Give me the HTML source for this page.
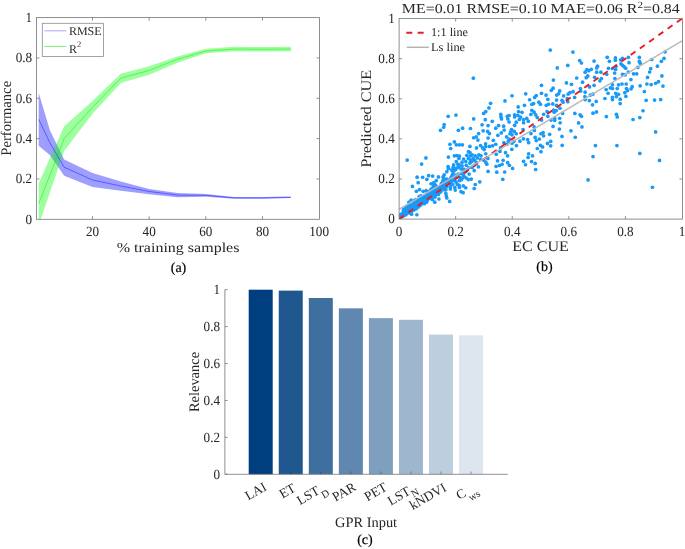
<!DOCTYPE html>
<html lang="en">
<head>
<meta charset="utf-8">
<title>GPR performance figure</title>
<style>
html,body{margin:0;padding:0;background:#fff;}
body{width:685px;height:549px;overflow:hidden;}
svg{display:block;font-family:"Liberation Serif", "DejaVu Serif", serif;text-rendering:geometricPrecision;will-change:transform;transform:translateZ(0);}
</style>
</head>
<body>
<svg width="685" height="549" viewBox="0 0 685 549">
<rect width="685" height="549" fill="#fff"/>
<clipPath id="ca"><rect x="36.5" y="17.6" width="283" height="201.7"/></clipPath>
<g clip-path="url(#ca)">
<polygon points="38.66,92.63 50,130.55 64.16,159.4 92.5,173.11 120.83,181.38 149.16,189.05 177.5,192.88 205.83,193.89 234.16,197.11 262.49,197.11 290.83,196.51 290.83,198.12 262.49,198.73 234.16,198.73 205.83,196.71 177.5,197.31 149.16,194.29 120.83,190.66 92.5,187.03 64.16,175.73 50,155.16 38.66,145.68" fill="rgba(0,0,255,0.38)"/>
<polygon points="38.66,183.2 50,157.98 64.16,126.32 92.5,101.1 120.83,73.87 149.16,66.21 177.5,56.53 205.83,48.66 234.16,46.85 262.49,47.05 290.83,46.85 290.83,51.28 262.49,51.49 234.16,51.28 205.83,53.3 177.5,62.78 149.16,74.68 120.83,82.95 92.5,113.81 64.16,150.92 50,192.27 38.66,225.35" fill="rgba(0,255,0,0.38)"/>
<polyline points="38.66,119.26 50,143.06 64.16,167.26 92.5,179.97 120.83,186.02 149.16,191.47 177.5,195.1 205.83,195.3 234.16,197.92 262.49,197.92 290.83,197.31" fill="none" stroke="#0000ff" stroke-width="0.8" stroke-opacity="0.55"/>
<polyline points="38.66,203.77 50,174.72 64.16,138.62 92.5,107.36 120.83,78.11 149.16,70.45 177.5,59.35 205.83,51.08 234.16,49.07 262.49,49.27 290.83,49.07" fill="none" stroke="#00e000" stroke-width="0.8" stroke-opacity="0.55"/>
</g>
<rect x="36.5" y="17.6" width="283" height="201.7" fill="none" stroke="#7c7c7c" stroke-width="0.85"/>
<line x1="92.5" y1="219.3" x2="92.5" y2="216.3" stroke="#7c7c7c" stroke-width="0.85" />
<line x1="92.5" y1="17.6" x2="92.5" y2="20.6" stroke="#7c7c7c" stroke-width="0.85" />
<line x1="149.16" y1="219.3" x2="149.16" y2="216.3" stroke="#7c7c7c" stroke-width="0.85" />
<line x1="149.16" y1="17.6" x2="149.16" y2="20.6" stroke="#7c7c7c" stroke-width="0.85" />
<line x1="205.83" y1="219.3" x2="205.83" y2="216.3" stroke="#7c7c7c" stroke-width="0.85" />
<line x1="205.83" y1="17.6" x2="205.83" y2="20.6" stroke="#7c7c7c" stroke-width="0.85" />
<line x1="262.49" y1="219.3" x2="262.49" y2="216.3" stroke="#7c7c7c" stroke-width="0.85" />
<line x1="262.49" y1="17.6" x2="262.49" y2="20.6" stroke="#7c7c7c" stroke-width="0.85" />
<line x1="36.5" y1="178.96" x2="39.5" y2="178.96" stroke="#7c7c7c" stroke-width="0.85" />
<line x1="319.5" y1="178.96" x2="316.5" y2="178.96" stroke="#7c7c7c" stroke-width="0.85" />
<line x1="36.5" y1="138.62" x2="39.5" y2="138.62" stroke="#7c7c7c" stroke-width="0.85" />
<line x1="319.5" y1="138.62" x2="316.5" y2="138.62" stroke="#7c7c7c" stroke-width="0.85" />
<line x1="36.5" y1="98.28" x2="39.5" y2="98.28" stroke="#7c7c7c" stroke-width="0.85" />
<line x1="319.5" y1="98.28" x2="316.5" y2="98.28" stroke="#7c7c7c" stroke-width="0.85" />
<line x1="36.5" y1="57.94" x2="39.5" y2="57.94" stroke="#7c7c7c" stroke-width="0.85" />
<line x1="319.5" y1="57.94" x2="316.5" y2="57.94" stroke="#7c7c7c" stroke-width="0.85" />
<text x="92.5" y="236" font-size="14" text-anchor="middle" fill="#262626" textLength="13.16" lengthAdjust="spacingAndGlyphs">20</text>
<text x="149.16" y="236" font-size="14" text-anchor="middle" fill="#262626" textLength="13.16" lengthAdjust="spacingAndGlyphs">40</text>
<text x="205.83" y="236" font-size="14" text-anchor="middle" fill="#262626" textLength="13.16" lengthAdjust="spacingAndGlyphs">60</text>
<text x="262.49" y="236" font-size="14" text-anchor="middle" fill="#262626" textLength="13.16" lengthAdjust="spacingAndGlyphs">80</text>
<text x="319.16" y="236" font-size="14" text-anchor="middle" fill="#262626" textLength="19.74" lengthAdjust="spacingAndGlyphs">100</text>
<text x="32.2" y="223.6" font-size="14" text-anchor="end" fill="#262626" textLength="6.58" lengthAdjust="spacingAndGlyphs">0</text>
<text x="32.2" y="183.26" font-size="14" text-anchor="end" fill="#262626" textLength="16.45" lengthAdjust="spacingAndGlyphs">0.2</text>
<text x="32.2" y="142.92" font-size="14" text-anchor="end" fill="#262626" textLength="16.45" lengthAdjust="spacingAndGlyphs">0.4</text>
<text x="32.2" y="102.58" font-size="14" text-anchor="end" fill="#262626" textLength="16.45" lengthAdjust="spacingAndGlyphs">0.6</text>
<text x="32.2" y="62.24" font-size="14" text-anchor="end" fill="#262626" textLength="16.45" lengthAdjust="spacingAndGlyphs">0.8</text>
<text x="32.2" y="21.9" font-size="14" text-anchor="end" fill="#262626" textLength="6.58" lengthAdjust="spacingAndGlyphs">1</text>
<text x="0" y="0" font-size="14.67" text-anchor="middle" fill="#262626" transform="translate(10.6 118.3) rotate(-90)">Performance</text>
<text x="178.1" y="251.8" font-size="13.7" text-anchor="middle" fill="#262626" textLength="122.7" lengthAdjust="spacingAndGlyphs">% training samples</text>
<text x="178.5" y="271.5" font-size="14" text-anchor="middle" fill="#000" stroke="#000" stroke-width="0.2">(a)</text>
<rect x="42.3" y="23.3" width="61.2" height="33.2" fill="#fff" stroke="#8c8c8c" stroke-width="0.8"/>
<line x1="44.4" y1="30.8" x2="66.4" y2="30.8" stroke="#0000ff" stroke-width="0.9" stroke-opacity="0.4"/>
<line x1="44.4" y1="46.4" x2="66.4" y2="46.4" stroke="#00e000" stroke-width="0.9" stroke-opacity="0.6"/>
<text x="68.9" y="35.1" font-size="12" text-anchor="start" fill="#262626" >RMSE</text>
<text x="68.9" y="52.6" font-size="12" fill="#262626">R<tspan font-size="8.4" dy="-5.4">2</tspan></text>
<clipPath id="cb"><rect x="399.1" y="18.6" width="282.9" height="200.5"/></clipPath>
<g clip-path="url(#cb)">
<g fill="#189af8">
<circle cx="550.25" cy="50.06" r="1.85"/>
<circle cx="572.94" cy="52.06" r="1.85"/>
<circle cx="579.68" cy="60.56" r="1.85"/>
<circle cx="581.46" cy="62.99" r="1.85"/>
<circle cx="567.79" cy="65.4" r="1.85"/>
<circle cx="557.3" cy="67.92" r="1.85"/>
<circle cx="594.07" cy="61.09" r="1.85"/>
<circle cx="607.23" cy="57.32" r="1.85"/>
<circle cx="609.44" cy="61.31" r="1.85"/>
<circle cx="597.55" cy="66.14" r="1.85"/>
<circle cx="596.71" cy="67.92" r="1.85"/>
<circle cx="586.83" cy="69.51" r="1.85"/>
<circle cx="591.25" cy="69.29" r="1.85"/>
<circle cx="608.47" cy="68.24" r="1.85"/>
<circle cx="665.08" cy="51.84" r="1.85"/>
<circle cx="664.04" cy="58.46" r="1.85"/>
<circle cx="661.4" cy="61.31" r="1.85"/>
<circle cx="657.42" cy="66.14" r="1.85"/>
<circle cx="651.73" cy="59.52" r="1.85"/>
<circle cx="650.68" cy="68.66" r="1.85"/>
<circle cx="639.34" cy="57.42" r="1.85"/>
<circle cx="639.34" cy="61.31" r="1.85"/>
<circle cx="640.16" cy="63.19" r="1.85"/>
<circle cx="637.75" cy="67.4" r="1.85"/>
<circle cx="628.31" cy="57.42" r="1.85"/>
<circle cx="629.04" cy="62.67" r="1.85"/>
<circle cx="622.51" cy="58.46" r="1.85"/>
<circle cx="620.61" cy="59.84" r="1.85"/>
<circle cx="615.38" cy="57.94" r="1.85"/>
<circle cx="615.38" cy="60.26" r="1.85"/>
<circle cx="620.92" cy="63.73" r="1.85"/>
<circle cx="622.51" cy="65.3" r="1.85"/>
<circle cx="624.09" cy="66.56" r="1.85"/>
<circle cx="625.67" cy="68.24" r="1.85"/>
<circle cx="616" cy="66.36" r="1.85"/>
<circle cx="615.69" cy="69.51" r="1.85"/>
<circle cx="448.18" cy="116.34" r="1.85"/>
<circle cx="455.96" cy="115.08" r="1.85"/>
<circle cx="473.36" cy="78.19" r="1.85"/>
<circle cx="490.59" cy="103.31" r="1.85"/>
<circle cx="488.92" cy="107.94" r="1.85"/>
<circle cx="485.78" cy="111.61" r="1.85"/>
<circle cx="483.66" cy="113.42" r="1.85"/>
<circle cx="473.67" cy="118.97" r="1.85"/>
<circle cx="485.24" cy="119.71" r="1.85"/>
<circle cx="504.99" cy="100.91" r="1.85"/>
<circle cx="512.03" cy="95.75" r="1.85"/>
<circle cx="525.7" cy="93.85" r="1.85"/>
<circle cx="541.48" cy="85.35" r="1.85"/>
<circle cx="541.48" cy="93.23" r="1.85"/>
<circle cx="536.22" cy="95.53" r="1.85"/>
<circle cx="534.64" cy="97.44" r="1.85"/>
<circle cx="529.6" cy="99.74" r="1.85"/>
<circle cx="533.59" cy="103.53" r="1.85"/>
<circle cx="531.81" cy="104.25" r="1.85"/>
<circle cx="538.85" cy="102.17" r="1.85"/>
<circle cx="540.44" cy="104.25" r="1.85"/>
<circle cx="524.45" cy="105.32" r="1.85"/>
<circle cx="518.14" cy="106.9" r="1.85"/>
<circle cx="518.57" cy="111.61" r="1.85"/>
<circle cx="522.02" cy="112.35" r="1.85"/>
<circle cx="531.81" cy="110.25" r="1.85"/>
<circle cx="534.13" cy="112.15" r="1.85"/>
<circle cx="530.96" cy="114.46" r="1.85"/>
<circle cx="535.68" cy="114.78" r="1.85"/>
<circle cx="500.8" cy="114.46" r="1.85"/>
<circle cx="501" cy="116.89" r="1.85"/>
<circle cx="507.31" cy="116.34" r="1.85"/>
<circle cx="509.09" cy="115.5" r="1.85"/>
<circle cx="514.66" cy="114.78" r="1.85"/>
<circle cx="514.66" cy="116.89" r="1.85"/>
<circle cx="517.83" cy="115.3" r="1.85"/>
<circle cx="520.46" cy="117.19" r="1.85"/>
<circle cx="526.77" cy="118.45" r="1.85"/>
<circle cx="537.27" cy="117.41" r="1.85"/>
<circle cx="501.54" cy="118.97" r="1.85"/>
<circle cx="507.85" cy="118.97" r="1.85"/>
<circle cx="519.39" cy="119.51" r="1.85"/>
<circle cx="523.6" cy="119.71" r="1.85"/>
<circle cx="553.39" cy="80.09" r="1.85"/>
<circle cx="566.44" cy="82.92" r="1.85"/>
<circle cx="571.47" cy="84.28" r="1.85"/>
<circle cx="576.73" cy="77.99" r="1.85"/>
<circle cx="582.53" cy="82.2" r="1.85"/>
<circle cx="553.08" cy="88.17" r="1.85"/>
<circle cx="551.3" cy="90.28" r="1.85"/>
<circle cx="559.7" cy="90.92" r="1.85"/>
<circle cx="546.04" cy="95.11" r="1.85"/>
<circle cx="558.66" cy="93.75" r="1.85"/>
<circle cx="556.76" cy="95.11" r="1.85"/>
<circle cx="563.61" cy="95.85" r="1.85"/>
<circle cx="547.82" cy="99.32" r="1.85"/>
<circle cx="556.56" cy="100.06" r="1.85"/>
<circle cx="562.02" cy="100.36" r="1.85"/>
<circle cx="563.07" cy="102.17" r="1.85"/>
<circle cx="567.28" cy="98.48" r="1.85"/>
<circle cx="567.79" cy="101.63" r="1.85"/>
<circle cx="568.1" cy="94.07" r="1.85"/>
<circle cx="569.92" cy="92.7" r="1.85"/>
<circle cx="573.06" cy="91.64" r="1.85"/>
<circle cx="574.64" cy="97.44" r="1.85"/>
<circle cx="580.41" cy="88.49" r="1.85"/>
<circle cx="580.72" cy="90.92" r="1.85"/>
<circle cx="585.14" cy="92.18" r="1.85"/>
<circle cx="584.94" cy="96.59" r="1.85"/>
<circle cx="585.14" cy="99.54" r="1.85"/>
<circle cx="589.35" cy="100.58" r="1.85"/>
<circle cx="589.55" cy="86.91" r="1.85"/>
<circle cx="590.4" cy="95.11" r="1.85"/>
<circle cx="593.03" cy="94.07" r="1.85"/>
<circle cx="594.07" cy="85.35" r="1.85"/>
<circle cx="596.2" cy="101.43" r="1.85"/>
<circle cx="592.49" cy="104.79" r="1.85"/>
<circle cx="585.14" cy="72.21" r="1.85"/>
<circle cx="588.81" cy="70.63" r="1.85"/>
<circle cx="587.77" cy="75.88" r="1.85"/>
<circle cx="586.21" cy="77.67" r="1.85"/>
<circle cx="594.61" cy="77.25" r="1.85"/>
<circle cx="596.71" cy="72.21" r="1.85"/>
<circle cx="600.92" cy="72.21" r="1.85"/>
<circle cx="601.43" cy="78.51" r="1.85"/>
<circle cx="599.87" cy="80.82" r="1.85"/>
<circle cx="606.69" cy="74.3" r="1.85"/>
<circle cx="612.46" cy="68.52" r="1.85"/>
<circle cx="606.15" cy="89.56" r="1.85"/>
<circle cx="608.05" cy="93.23" r="1.85"/>
<circle cx="604.91" cy="98.48" r="1.85"/>
<circle cx="610.37" cy="87.97" r="1.85"/>
<circle cx="612.46" cy="88.49" r="1.85"/>
<circle cx="612.46" cy="84.83" r="1.85"/>
<circle cx="612.46" cy="97.44" r="1.85"/>
<circle cx="612.46" cy="99.54" r="1.85"/>
<circle cx="548.56" cy="104.25" r="1.85"/>
<circle cx="546.26" cy="105.32" r="1.85"/>
<circle cx="552.77" cy="103.95" r="1.85"/>
<circle cx="556.56" cy="105.32" r="1.85"/>
<circle cx="559.93" cy="108.14" r="1.85"/>
<circle cx="553.62" cy="110.05" r="1.85"/>
<circle cx="556.25" cy="110.57" r="1.85"/>
<circle cx="547.08" cy="111.61" r="1.85"/>
<circle cx="543.63" cy="114.24" r="1.85"/>
<circle cx="554.13" cy="112.15" r="1.85"/>
<circle cx="562.56" cy="113.42" r="1.85"/>
<circle cx="547.82" cy="116.34" r="1.85"/>
<circle cx="554.67" cy="118.25" r="1.85"/>
<circle cx="559.7" cy="118.25" r="1.85"/>
<circle cx="574.84" cy="113.42" r="1.85"/>
<circle cx="580.1" cy="114.78" r="1.85"/>
<circle cx="581.46" cy="116.34" r="1.85"/>
<circle cx="593.03" cy="113.2" r="1.85"/>
<circle cx="596.51" cy="111.93" r="1.85"/>
<circle cx="606.38" cy="116.56" r="1.85"/>
<circle cx="614.64" cy="73.04" r="1.85"/>
<circle cx="628.31" cy="71.99" r="1.85"/>
<circle cx="622.51" cy="74.3" r="1.85"/>
<circle cx="625.14" cy="74.84" r="1.85"/>
<circle cx="633.54" cy="73.78" r="1.85"/>
<circle cx="636.71" cy="73.78" r="1.85"/>
<circle cx="649.64" cy="71.99" r="1.85"/>
<circle cx="647.51" cy="77.47" r="1.85"/>
<circle cx="661.91" cy="75.88" r="1.85"/>
<circle cx="614.95" cy="78.51" r="1.85"/>
<circle cx="630.91" cy="79.57" r="1.85"/>
<circle cx="618.52" cy="84.83" r="1.85"/>
<circle cx="622" cy="83.98" r="1.85"/>
<circle cx="626.18" cy="83.98" r="1.85"/>
<circle cx="632.18" cy="86.71" r="1.85"/>
<circle cx="631.13" cy="88.82" r="1.85"/>
<circle cx="640.16" cy="85.87" r="1.85"/>
<circle cx="646.89" cy="83.98" r="1.85"/>
<circle cx="651.19" cy="84.6" r="1.85"/>
<circle cx="655.63" cy="83.24" r="1.85"/>
<circle cx="658.46" cy="81.66" r="1.85"/>
<circle cx="662.99" cy="86.09" r="1.85"/>
<circle cx="617.24" cy="88.49" r="1.85"/>
<circle cx="626.5" cy="88.49" r="1.85"/>
<circle cx="627.57" cy="90.6" r="1.85"/>
<circle cx="624.83" cy="92.7" r="1.85"/>
<circle cx="615.69" cy="93.23" r="1.85"/>
<circle cx="618.52" cy="94.27" r="1.85"/>
<circle cx="616.42" cy="96.59" r="1.85"/>
<circle cx="625.87" cy="96.37" r="1.85"/>
<circle cx="620.19" cy="99.22" r="1.85"/>
<circle cx="620.19" cy="103.53" r="1.85"/>
<circle cx="644.37" cy="91.54" r="1.85"/>
<circle cx="646.16" cy="100.36" r="1.85"/>
<circle cx="654.56" cy="100.06" r="1.85"/>
<circle cx="660.67" cy="99.54" r="1.85"/>
<circle cx="643.02" cy="110.77" r="1.85"/>
<circle cx="616.42" cy="114.24" r="1.85"/>
<circle cx="617.24" cy="116.89" r="1.85"/>
<circle cx="639.85" cy="117.61" r="1.85"/>
<circle cx="633.03" cy="119.51" r="1.85"/>
<circle cx="444.19" cy="124.52" r="1.85"/>
<circle cx="443.69" cy="127.25" r="1.85"/>
<circle cx="440.52" cy="130.3" r="1.85"/>
<circle cx="458.4" cy="130.3" r="1.85"/>
<circle cx="462.58" cy="128.19" r="1.85"/>
<circle cx="470.48" cy="128.51" r="1.85"/>
<circle cx="407.19" cy="160.05" r="1.85"/>
<circle cx="421.59" cy="164.04" r="1.85"/>
<circle cx="425.92" cy="157.95" r="1.85"/>
<circle cx="449.97" cy="144.27" r="1.85"/>
<circle cx="454.38" cy="141.97" r="1.85"/>
<circle cx="456.27" cy="144.79" r="1.85"/>
<circle cx="459.44" cy="144.79" r="1.85"/>
<circle cx="462.38" cy="144.79" r="1.85"/>
<circle cx="450.7" cy="148.48" r="1.85"/>
<circle cx="469.94" cy="146.38" r="1.85"/>
<circle cx="448.41" cy="157.11" r="1.85"/>
<circle cx="454.38" cy="155.84" r="1.85"/>
<circle cx="456.81" cy="155.62" r="1.85"/>
<circle cx="459.44" cy="156.04" r="1.85"/>
<circle cx="458.91" cy="158.47" r="1.85"/>
<circle cx="468.38" cy="151.63" r="1.85"/>
<circle cx="466.8" cy="155.32" r="1.85"/>
<circle cx="463.63" cy="158.99" r="1.85"/>
<circle cx="468.38" cy="158.47" r="1.85"/>
<circle cx="470.48" cy="155.84" r="1.85"/>
<circle cx="456.27" cy="161.62" r="1.85"/>
<circle cx="462.07" cy="162.14" r="1.85"/>
<circle cx="465.75" cy="161.62" r="1.85"/>
<circle cx="453.64" cy="164.76" r="1.85"/>
<circle cx="457.86" cy="164.24" r="1.85"/>
<circle cx="448.1" cy="166.57" r="1.85"/>
<circle cx="453.13" cy="167.41" r="1.85"/>
<circle cx="457.86" cy="167.41" r="1.85"/>
<circle cx="462.07" cy="165.83" r="1.85"/>
<circle cx="466.26" cy="165.31" r="1.85"/>
<circle cx="461.03" cy="168.97" r="1.85"/>
<circle cx="455.76" cy="169.5" r="1.85"/>
<circle cx="470.48" cy="160.05" r="1.85"/>
<circle cx="492.29" cy="121.36" r="1.85"/>
<circle cx="509.09" cy="122" r="1.85"/>
<circle cx="516.25" cy="122.2" r="1.85"/>
<circle cx="514.66" cy="125.37" r="1.85"/>
<circle cx="523.6" cy="122.74" r="1.85"/>
<circle cx="528.33" cy="121.16" r="1.85"/>
<circle cx="482.07" cy="124.82" r="1.85"/>
<circle cx="488.07" cy="125.57" r="1.85"/>
<circle cx="483.15" cy="130.82" r="1.85"/>
<circle cx="495.74" cy="128.19" r="1.85"/>
<circle cx="498.6" cy="125.57" r="1.85"/>
<circle cx="503.63" cy="126.21" r="1.85"/>
<circle cx="504.17" cy="130.08" r="1.85"/>
<circle cx="501.31" cy="132.93" r="1.85"/>
<circle cx="487.65" cy="131.46" r="1.85"/>
<circle cx="489.46" cy="133.55" r="1.85"/>
<circle cx="478.62" cy="133.55" r="1.85"/>
<circle cx="497.86" cy="135.35" r="1.85"/>
<circle cx="473.67" cy="137.76" r="1.85"/>
<circle cx="476.3" cy="136.92" r="1.85"/>
<circle cx="477.89" cy="140.08" r="1.85"/>
<circle cx="488.07" cy="137.98" r="1.85"/>
<circle cx="493.33" cy="140.28" r="1.85"/>
<circle cx="511.52" cy="129.56" r="1.85"/>
<circle cx="510.79" cy="131.66" r="1.85"/>
<circle cx="514.16" cy="131.46" r="1.85"/>
<circle cx="509.94" cy="133.77" r="1.85"/>
<circle cx="512.03" cy="134.81" r="1.85"/>
<circle cx="516.25" cy="133.77" r="1.85"/>
<circle cx="506.57" cy="136.92" r="1.85"/>
<circle cx="509.09" cy="139.02" r="1.85"/>
<circle cx="508.36" cy="141.13" r="1.85"/>
<circle cx="512.03" cy="143.23" r="1.85"/>
<circle cx="513.93" cy="141.33" r="1.85"/>
<circle cx="503.86" cy="142.71" r="1.85"/>
<circle cx="506.8" cy="144.27" r="1.85"/>
<circle cx="516.45" cy="145.54" r="1.85"/>
<circle cx="511.84" cy="149.33" r="1.85"/>
<circle cx="523.07" cy="129.56" r="1.85"/>
<circle cx="530.96" cy="133.55" r="1.85"/>
<circle cx="534.33" cy="130.4" r="1.85"/>
<circle cx="534.13" cy="126.93" r="1.85"/>
<circle cx="523.41" cy="138.82" r="1.85"/>
<circle cx="519.93" cy="141.13" r="1.85"/>
<circle cx="527.59" cy="139.54" r="1.85"/>
<circle cx="528.64" cy="142.71" r="1.85"/>
<circle cx="535.17" cy="137.44" r="1.85"/>
<circle cx="536.22" cy="140.6" r="1.85"/>
<circle cx="539.36" cy="139.02" r="1.85"/>
<circle cx="540.95" cy="133.77" r="1.85"/>
<circle cx="537.27" cy="148.48" r="1.85"/>
<circle cx="540.44" cy="145.34" r="1.85"/>
<circle cx="540.95" cy="151.63" r="1.85"/>
<circle cx="476.53" cy="147.96" r="1.85"/>
<circle cx="480.52" cy="145.54" r="1.85"/>
<circle cx="482.61" cy="147.96" r="1.85"/>
<circle cx="485.55" cy="143.75" r="1.85"/>
<circle cx="485.78" cy="146.38" r="1.85"/>
<circle cx="484.2" cy="149.53" r="1.85"/>
<circle cx="489.46" cy="146.38" r="1.85"/>
<circle cx="492.6" cy="145.86" r="1.85"/>
<circle cx="495.74" cy="144.27" r="1.85"/>
<circle cx="500.49" cy="147.96" r="1.85"/>
<circle cx="499.95" cy="151.43" r="1.85"/>
<circle cx="496.28" cy="154.26" r="1.85"/>
<circle cx="505.53" cy="152.69" r="1.85"/>
<circle cx="507.62" cy="155.84" r="1.85"/>
<circle cx="485.78" cy="153.74" r="1.85"/>
<circle cx="469.99" cy="152.69" r="1.85"/>
<circle cx="472.09" cy="154.78" r="1.85"/>
<circle cx="475.26" cy="155.84" r="1.85"/>
<circle cx="478.93" cy="154.78" r="1.85"/>
<circle cx="481.03" cy="155.84" r="1.85"/>
<circle cx="477.35" cy="157.95" r="1.85"/>
<circle cx="473.16" cy="158.47" r="1.85"/>
<circle cx="474.72" cy="160.57" r="1.85"/>
<circle cx="471.58" cy="161.62" r="1.85"/>
<circle cx="476.3" cy="162.68" r="1.85"/>
<circle cx="480.52" cy="159.51" r="1.85"/>
<circle cx="483.66" cy="160.05" r="1.85"/>
<circle cx="487.87" cy="158.47" r="1.85"/>
<circle cx="485.78" cy="162.14" r="1.85"/>
<circle cx="486.83" cy="164.24" r="1.85"/>
<circle cx="474.21" cy="165.31" r="1.85"/>
<circle cx="478.4" cy="166.87" r="1.85"/>
<circle cx="472.09" cy="167.41" r="1.85"/>
<circle cx="497.55" cy="160.87" r="1.85"/>
<circle cx="503.12" cy="160.25" r="1.85"/>
<circle cx="502.05" cy="164.24" r="1.85"/>
<circle cx="499.44" cy="165.51" r="1.85"/>
<circle cx="496.08" cy="166.35" r="1.85"/>
<circle cx="507.62" cy="162.68" r="1.85"/>
<circle cx="509.4" cy="165.31" r="1.85"/>
<circle cx="512.57" cy="168.45" r="1.85"/>
<circle cx="528.64" cy="153.74" r="1.85"/>
<circle cx="532.54" cy="155.84" r="1.85"/>
<circle cx="528.13" cy="157.41" r="1.85"/>
<circle cx="523.6" cy="161.3" r="1.85"/>
<circle cx="531.5" cy="161.62" r="1.85"/>
<circle cx="535.17" cy="163.4" r="1.85"/>
<circle cx="525.5" cy="164.76" r="1.85"/>
<circle cx="535.68" cy="169.5" r="1.85"/>
<circle cx="541.51" cy="120.09" r="1.85"/>
<circle cx="550.99" cy="120.09" r="1.85"/>
<circle cx="554.67" cy="120.31" r="1.85"/>
<circle cx="560.13" cy="122.74" r="1.85"/>
<circle cx="553.08" cy="126.41" r="1.85"/>
<circle cx="559.39" cy="129.04" r="1.85"/>
<circle cx="543.1" cy="132.5" r="1.85"/>
<circle cx="543.63" cy="135.87" r="1.85"/>
<circle cx="549.63" cy="134.29" r="1.85"/>
<circle cx="562.02" cy="136.39" r="1.85"/>
<circle cx="570.96" cy="130.82" r="1.85"/>
<circle cx="578.63" cy="122.94" r="1.85"/>
<circle cx="581.99" cy="126.93" r="1.85"/>
<circle cx="575.26" cy="137.24" r="1.85"/>
<circle cx="550.68" cy="141.33" r="1.85"/>
<circle cx="547.51" cy="143.43" r="1.85"/>
<circle cx="550.68" cy="145.86" r="1.85"/>
<circle cx="542.59" cy="146.9" r="1.85"/>
<circle cx="562.22" cy="145.34" r="1.85"/>
<circle cx="595.43" cy="145.54" r="1.85"/>
<circle cx="593.03" cy="156.58" r="1.85"/>
<circle cx="655.63" cy="131.88" r="1.85"/>
<circle cx="616.93" cy="145.54" r="1.85"/>
<circle cx="639.85" cy="153.42" r="1.85"/>
<circle cx="659.51" cy="160.47" r="1.85"/>
<circle cx="417.09" cy="177.14" r="1.85"/>
<circle cx="422.64" cy="177.26" r="1.85"/>
<circle cx="428.63" cy="175.57" r="1.85"/>
<circle cx="432.62" cy="176.09" r="1.85"/>
<circle cx="438.42" cy="176.93" r="1.85"/>
<circle cx="426.85" cy="179.36" r="1.85"/>
<circle cx="418.14" cy="182.71" r="1.85"/>
<circle cx="412.45" cy="186.4" r="1.85"/>
<circle cx="416.36" cy="191.33" r="1.85"/>
<circle cx="419.5" cy="189.55" r="1.85"/>
<circle cx="423.17" cy="191.33" r="1.85"/>
<circle cx="426.12" cy="190.59" r="1.85"/>
<circle cx="411.09" cy="200.05" r="1.85"/>
<circle cx="408.97" cy="202.16" r="1.85"/>
<circle cx="431.07" cy="183.77" r="1.85"/>
<circle cx="433.7" cy="184.29" r="1.85"/>
<circle cx="436.3" cy="180.6" r="1.85"/>
<circle cx="443.15" cy="176.93" r="1.85"/>
<circle cx="444.19" cy="174.83" r="1.85"/>
<circle cx="446.83" cy="171.68" r="1.85"/>
<circle cx="448.41" cy="168.53" r="1.85"/>
<circle cx="451.55" cy="170.1" r="1.85"/>
<circle cx="431.07" cy="189.03" r="1.85"/>
<circle cx="416.87" cy="214.77" r="1.85"/>
<circle cx="449.65" cy="201.42" r="1.85"/>
<circle cx="446.83" cy="197.95" r="1.85"/>
<circle cx="446.29" cy="195.86" r="1.85"/>
<circle cx="445.78" cy="193.24" r="1.85"/>
<circle cx="455.23" cy="190.07" r="1.85"/>
<circle cx="461.03" cy="191.65" r="1.85"/>
<circle cx="463.12" cy="192.69" r="1.85"/>
<circle cx="459.13" cy="185.34" r="1.85"/>
<circle cx="459.44" cy="187.44" r="1.85"/>
<circle cx="463.32" cy="185.88" r="1.85"/>
<circle cx="465.75" cy="187.76" r="1.85"/>
<circle cx="450.5" cy="186.92" r="1.85"/>
<circle cx="452.6" cy="184.29" r="1.85"/>
<circle cx="459.44" cy="180.6" r="1.85"/>
<circle cx="466.26" cy="177.98" r="1.85"/>
<circle cx="468.38" cy="179.56" r="1.85"/>
<circle cx="438.93" cy="199.01" r="1.85"/>
<circle cx="434.75" cy="202.16" r="1.85"/>
<circle cx="411.6" cy="214.25" r="1.85"/>
<circle cx="474.21" cy="170.62" r="1.85"/>
<circle cx="488.07" cy="171.46" r="1.85"/>
<circle cx="496.81" cy="172.2" r="1.85"/>
<circle cx="504.68" cy="172" r="1.85"/>
<circle cx="471.27" cy="179.04" r="1.85"/>
<circle cx="479.78" cy="181.87" r="1.85"/>
<circle cx="475.26" cy="184.49" r="1.85"/>
<circle cx="474.21" cy="188.5" r="1.85"/>
<circle cx="502.78" cy="179.36" r="1.85"/>
<circle cx="588.08" cy="179.88" r="1.85"/>
<circle cx="652.47" cy="187.24" r="1.85"/>
<circle cx="419.16" cy="204.64" r="1.85"/>
<circle cx="429.6" cy="192.99" r="1.85"/>
<circle cx="428.01" cy="198.69" r="1.85"/>
<circle cx="415.25" cy="204.24" r="1.85"/>
<circle cx="408.12" cy="211.22" r="1.85"/>
<circle cx="430.64" cy="195.36" r="1.85"/>
<circle cx="413.81" cy="201.88" r="1.85"/>
<circle cx="407.3" cy="211.08" r="1.85"/>
<circle cx="421.68" cy="203.6" r="1.85"/>
<circle cx="426.8" cy="195.02" r="1.85"/>
<circle cx="423.74" cy="196.58" r="1.85"/>
<circle cx="437.23" cy="191.35" r="1.85"/>
<circle cx="408.18" cy="210.9" r="1.85"/>
<circle cx="420.01" cy="199.05" r="1.85"/>
<circle cx="414.63" cy="204.06" r="1.85"/>
<circle cx="418.79" cy="200.37" r="1.85"/>
<circle cx="438.99" cy="192.87" r="1.85"/>
<circle cx="416.22" cy="206.47" r="1.85"/>
<circle cx="400.32" cy="217.92" r="1.85"/>
<circle cx="432.2" cy="190.25" r="1.85"/>
<circle cx="450.47" cy="179.54" r="1.85"/>
<circle cx="419.24" cy="196.62" r="1.85"/>
<circle cx="401.17" cy="215.15" r="1.85"/>
<circle cx="424.7" cy="195.74" r="1.85"/>
<circle cx="413.9" cy="205.73" r="1.85"/>
<circle cx="421.59" cy="197.79" r="1.85"/>
<circle cx="423.91" cy="199.73" r="1.85"/>
<circle cx="436.7" cy="190.61" r="1.85"/>
<circle cx="434.38" cy="194.32" r="1.85"/>
<circle cx="404.62" cy="209.5" r="1.85"/>
<circle cx="425.66" cy="195.78" r="1.85"/>
<circle cx="422.98" cy="200.03" r="1.85"/>
<circle cx="432.54" cy="194.94" r="1.85"/>
<circle cx="412.79" cy="207.51" r="1.85"/>
<circle cx="434.32" cy="186.94" r="1.85"/>
<circle cx="445.3" cy="189.29" r="1.85"/>
<circle cx="438.31" cy="194.38" r="1.85"/>
<circle cx="432.88" cy="195.02" r="1.85"/>
<circle cx="422.95" cy="197.65" r="1.85"/>
<circle cx="409.11" cy="211.4" r="1.85"/>
<circle cx="407.02" cy="210.26" r="1.85"/>
<circle cx="448.49" cy="180.72" r="1.85"/>
<circle cx="403.8" cy="213.99" r="1.85"/>
<circle cx="413.47" cy="206.77" r="1.85"/>
<circle cx="420.35" cy="200.87" r="1.85"/>
<circle cx="446.54" cy="184.19" r="1.85"/>
<circle cx="424.36" cy="196.64" r="1.85"/>
<circle cx="407.93" cy="208.29" r="1.85"/>
<circle cx="409.82" cy="205.04" r="1.85"/>
<circle cx="440.77" cy="187.6" r="1.85"/>
<circle cx="408.92" cy="207.05" r="1.85"/>
<circle cx="428.75" cy="192.51" r="1.85"/>
<circle cx="407.42" cy="210.5" r="1.85"/>
<circle cx="446.88" cy="183.45" r="1.85"/>
<circle cx="415.14" cy="204.08" r="1.85"/>
<circle cx="403.48" cy="210.6" r="1.85"/>
<circle cx="427.25" cy="194.6" r="1.85"/>
<circle cx="410.36" cy="210.96" r="1.85"/>
<circle cx="404.93" cy="213.21" r="1.85"/>
<circle cx="426.91" cy="199.35" r="1.85"/>
<circle cx="427.56" cy="196.66" r="1.85"/>
<circle cx="404.7" cy="212.38" r="1.85"/>
<circle cx="439.58" cy="190.69" r="1.85"/>
<circle cx="402.72" cy="216.47" r="1.85"/>
<circle cx="446.6" cy="182.39" r="1.85"/>
<circle cx="401.93" cy="214.45" r="1.85"/>
<circle cx="421.51" cy="203.08" r="1.85"/>
<circle cx="403.91" cy="213.45" r="1.85"/>
<circle cx="415.17" cy="207.33" r="1.85"/>
<circle cx="422.84" cy="202.36" r="1.85"/>
<circle cx="414.94" cy="204.68" r="1.85"/>
<circle cx="417.15" cy="201.72" r="1.85"/>
<circle cx="405.63" cy="209.62" r="1.85"/>
<circle cx="409.14" cy="210.06" r="1.85"/>
<circle cx="447.25" cy="182.29" r="1.85"/>
<circle cx="433.42" cy="192.37" r="1.85"/>
<circle cx="415.88" cy="199.99" r="1.85"/>
<circle cx="399.81" cy="217.6" r="1.85"/>
<circle cx="425.47" cy="197.99" r="1.85"/>
<circle cx="419.55" cy="201.44" r="1.85"/>
<circle cx="446.85" cy="186.46" r="1.85"/>
<circle cx="420.46" cy="205.13" r="1.85"/>
<circle cx="427.79" cy="195.62" r="1.85"/>
<circle cx="416.44" cy="208.57" r="1.85"/>
<circle cx="408.86" cy="207.97" r="1.85"/>
<circle cx="402.04" cy="216.15" r="1.85"/>
<circle cx="414.69" cy="200.87" r="1.85"/>
<circle cx="405.52" cy="214.93" r="1.85"/>
<circle cx="424.96" cy="198.93" r="1.85"/>
<circle cx="413.36" cy="206.43" r="1.85"/>
<circle cx="401.65" cy="216.01" r="1.85"/>
<circle cx="409.96" cy="208.09" r="1.85"/>
<circle cx="417.77" cy="202.78" r="1.85"/>
<circle cx="402.38" cy="214.19" r="1.85"/>
<circle cx="427.39" cy="195.16" r="1.85"/>
<circle cx="403.48" cy="215.09" r="1.85"/>
<circle cx="413.27" cy="207.65" r="1.85"/>
<circle cx="428.69" cy="192.89" r="1.85"/>
<circle cx="417.8" cy="201.54" r="1.85"/>
<circle cx="401.7" cy="216.17" r="1.85"/>
<circle cx="439.89" cy="189.33" r="1.85"/>
<circle cx="445.75" cy="183.85" r="1.85"/>
<circle cx="422.58" cy="201.1" r="1.85"/>
<circle cx="419.21" cy="202.2" r="1.85"/>
<circle cx="436.98" cy="190.09" r="1.85"/>
<circle cx="419.24" cy="205.83" r="1.85"/>
<circle cx="415.08" cy="208.29" r="1.85"/>
<circle cx="418.48" cy="204.64" r="1.85"/>
<circle cx="408.94" cy="210.26" r="1.85"/>
<circle cx="409.68" cy="208.91" r="1.85"/>
<circle cx="418.79" cy="200.07" r="1.85"/>
<circle cx="419.61" cy="201.38" r="1.85"/>
<circle cx="425.58" cy="196.46" r="1.85"/>
<circle cx="408.66" cy="205.37" r="1.85"/>
<circle cx="409.91" cy="207.01" r="1.85"/>
<circle cx="437.8" cy="191.89" r="1.85"/>
<circle cx="407.95" cy="212.12" r="1.85"/>
<circle cx="405.97" cy="211.4" r="1.85"/>
<circle cx="409.96" cy="209.05" r="1.85"/>
<circle cx="415.96" cy="199.59" r="1.85"/>
<circle cx="450.9" cy="181.73" r="1.85"/>
<circle cx="433.53" cy="195.32" r="1.85"/>
<circle cx="410.05" cy="210.2" r="1.85"/>
<circle cx="411.18" cy="205.69" r="1.85"/>
<circle cx="403.6" cy="209.92" r="1.85"/>
<circle cx="433.02" cy="193.64" r="1.85"/>
<circle cx="437.89" cy="191.05" r="1.85"/>
<circle cx="419.7" cy="200.75" r="1.85"/>
<circle cx="433.84" cy="192.77" r="1.85"/>
<circle cx="426.2" cy="198.07" r="1.85"/>
<circle cx="399.61" cy="217.86" r="1.85"/>
<circle cx="429.51" cy="194.34" r="1.85"/>
<circle cx="405.86" cy="207.83" r="1.85"/>
<circle cx="430.81" cy="197.87" r="1.85"/>
<circle cx="441.73" cy="184.25" r="1.85"/>
<circle cx="436.5" cy="193.74" r="1.85"/>
<circle cx="417.04" cy="202.16" r="1.85"/>
<circle cx="445.58" cy="182.93" r="1.85"/>
<circle cx="450.14" cy="182.51" r="1.85"/>
<circle cx="433.22" cy="190.71" r="1.85"/>
<circle cx="409.85" cy="211.2" r="1.85"/>
<circle cx="431.63" cy="191.33" r="1.85"/>
<circle cx="406.03" cy="214.25" r="1.85"/>
<circle cx="406.2" cy="207.85" r="1.85"/>
<circle cx="432.4" cy="196.3" r="1.85"/>
<circle cx="433.47" cy="187.12" r="1.85"/>
<circle cx="409.34" cy="210.84" r="1.85"/>
<circle cx="437.6" cy="193.66" r="1.85"/>
<circle cx="422.81" cy="200.83" r="1.85"/>
<circle cx="449.65" cy="181.87" r="1.85"/>
<circle cx="405.01" cy="212.22" r="1.85"/>
<circle cx="416.22" cy="208.19" r="1.85"/>
<circle cx="430.98" cy="193.66" r="1.85"/>
<circle cx="420.94" cy="195.84" r="1.85"/>
<circle cx="441.87" cy="186.56" r="1.85"/>
<circle cx="444.39" cy="181.57" r="1.85"/>
<circle cx="423.34" cy="199.15" r="1.85"/>
<circle cx="422.84" cy="198.75" r="1.85"/>
<circle cx="430.13" cy="196.86" r="1.85"/>
<circle cx="400.91" cy="214.61" r="1.85"/>
<circle cx="414.07" cy="201.98" r="1.85"/>
<circle cx="435.59" cy="188.78" r="1.85"/>
<circle cx="414.32" cy="209.54" r="1.85"/>
<circle cx="433.44" cy="188.88" r="1.85"/>
<circle cx="406.94" cy="212.7" r="1.85"/>
<circle cx="443.69" cy="187.1" r="1.85"/>
<circle cx="433.1" cy="194.98" r="1.85"/>
<circle cx="424.7" cy="200.51" r="1.85"/>
<circle cx="434.07" cy="189.03" r="1.85"/>
<circle cx="433.27" cy="191.75" r="1.85"/>
<circle cx="431.12" cy="194.78" r="1.85"/>
<circle cx="445.38" cy="186.2" r="1.85"/>
<circle cx="429.91" cy="193.34" r="1.85"/>
<circle cx="409.37" cy="206.11" r="1.85"/>
<circle cx="424" cy="199.33" r="1.85"/>
<circle cx="405.15" cy="211.24" r="1.85"/>
<circle cx="435.96" cy="189.75" r="1.85"/>
<circle cx="436.1" cy="193.54" r="1.85"/>
<circle cx="428.86" cy="193.76" r="1.85"/>
<circle cx="418.31" cy="206.89" r="1.85"/>
<circle cx="423.51" cy="201.78" r="1.85"/>
<circle cx="423.49" cy="197.37" r="1.85"/>
<circle cx="402.33" cy="213.41" r="1.85"/>
<circle cx="415.59" cy="206.15" r="1.85"/>
<circle cx="436.1" cy="194.46" r="1.85"/>
<circle cx="406.65" cy="209.2" r="1.85"/>
<circle cx="403.77" cy="209.38" r="1.85"/>
<circle cx="400.23" cy="218.16" r="1.85"/>
<circle cx="444.34" cy="181.77" r="1.85"/>
<circle cx="410.3" cy="211.52" r="1.85"/>
<circle cx="400.03" cy="217.96" r="1.85"/>
<circle cx="419.3" cy="198.63" r="1.85"/>
<circle cx="441.59" cy="186.12" r="1.85"/>
<circle cx="400.97" cy="215.89" r="1.85"/>
<circle cx="420.86" cy="203.26" r="1.85"/>
<circle cx="413.39" cy="208.37" r="1.85"/>
<circle cx="414.38" cy="200.55" r="1.85"/>
<circle cx="440.83" cy="191.61" r="1.85"/>
<circle cx="442.13" cy="187.56" r="1.85"/>
<circle cx="425.21" cy="199.33" r="1.85"/>
<circle cx="440.52" cy="191.65" r="1.85"/>
<circle cx="449.31" cy="183.97" r="1.85"/>
<circle cx="412.11" cy="206.07" r="1.85"/>
<circle cx="407.33" cy="212.42" r="1.85"/>
<circle cx="414.66" cy="202.8" r="1.85"/>
<circle cx="413.78" cy="209.72" r="1.85"/>
<circle cx="400.34" cy="214.93" r="1.85"/>
<circle cx="407.98" cy="206.15" r="1.85"/>
<circle cx="430.53" cy="198.53" r="1.85"/>
<circle cx="416.47" cy="206.65" r="1.85"/>
<circle cx="431.38" cy="196" r="1.85"/>
<circle cx="404.87" cy="211.94" r="1.85"/>
<circle cx="435.2" cy="195.42" r="1.85"/>
<circle cx="417.43" cy="204" r="1.85"/>
<circle cx="443.37" cy="182.41" r="1.85"/>
<circle cx="418.51" cy="203.26" r="1.85"/>
<circle cx="432.09" cy="189.51" r="1.85"/>
<circle cx="431.35" cy="194.78" r="1.85"/>
<circle cx="426.94" cy="198.49" r="1.85"/>
<circle cx="430.47" cy="196.72" r="1.85"/>
<circle cx="452.51" cy="180.46" r="1.85"/>
<circle cx="406.96" cy="210.22" r="1.85"/>
<circle cx="430.13" cy="196.28" r="1.85"/>
<circle cx="425.32" cy="195.82" r="1.85"/>
<circle cx="406.96" cy="211.74" r="1.85"/>
<circle cx="411.29" cy="209.46" r="1.85"/>
<circle cx="413.47" cy="209.62" r="1.85"/>
<circle cx="420.03" cy="199.03" r="1.85"/>
<circle cx="406.09" cy="210.16" r="1.85"/>
<circle cx="407.13" cy="208.45" r="1.85"/>
<circle cx="417.09" cy="201.48" r="1.85"/>
<circle cx="426.51" cy="202.12" r="1.85"/>
<circle cx="418.65" cy="202.12" r="1.85"/>
<circle cx="442.24" cy="184.97" r="1.85"/>
<circle cx="428.24" cy="194.06" r="1.85"/>
<circle cx="408.8" cy="210.38" r="1.85"/>
<circle cx="442.5" cy="182.35" r="1.85"/>
<circle cx="426.68" cy="201.84" r="1.85"/>
<circle cx="420.12" cy="203.66" r="1.85"/>
<circle cx="442.33" cy="188.06" r="1.85"/>
<circle cx="433.02" cy="193.2" r="1.85"/>
<circle cx="421.34" cy="200.81" r="1.85"/>
<circle cx="437.15" cy="187.12" r="1.85"/>
<circle cx="401.02" cy="216.07" r="1.85"/>
<circle cx="412.14" cy="208.03" r="1.85"/>
<circle cx="427.28" cy="200.09" r="1.85"/>
<circle cx="429" cy="196.56" r="1.85"/>
<circle cx="411.72" cy="208.99" r="1.85"/>
<circle cx="401.56" cy="214.89" r="1.85"/>
<circle cx="407.3" cy="210.76" r="1.85"/>
<circle cx="416.07" cy="206.57" r="1.85"/>
<circle cx="430.98" cy="193.26" r="1.85"/>
<circle cx="405.44" cy="211.14" r="1.85"/>
<circle cx="401.99" cy="214.67" r="1.85"/>
<circle cx="439.1" cy="187.52" r="1.85"/>
<circle cx="422.3" cy="202.18" r="1.85"/>
<circle cx="425.81" cy="197.21" r="1.85"/>
<circle cx="416.05" cy="206.99" r="1.85"/>
<circle cx="412.14" cy="205.81" r="1.85"/>
<circle cx="406.82" cy="208.65" r="1.85"/>
<circle cx="411.86" cy="204.74" r="1.85"/>
<circle cx="405.69" cy="211.54" r="1.85"/>
<circle cx="403.06" cy="213.87" r="1.85"/>
<circle cx="409.65" cy="206.65" r="1.85"/>
<circle cx="406.77" cy="210.42" r="1.85"/>
<circle cx="419.02" cy="201.58" r="1.85"/>
<circle cx="424.28" cy="198.25" r="1.85"/>
<circle cx="407.28" cy="213.02" r="1.85"/>
<circle cx="444.36" cy="180.9" r="1.85"/>
<circle cx="438.54" cy="187.9" r="1.85"/>
<circle cx="439.53" cy="191.47" r="1.85"/>
<circle cx="429.43" cy="191.37" r="1.85"/>
<circle cx="424.73" cy="200.13" r="1.85"/>
<circle cx="423.54" cy="198.95" r="1.85"/>
<circle cx="422.07" cy="200.99" r="1.85"/>
<circle cx="439.95" cy="191.35" r="1.85"/>
<circle cx="407.87" cy="209.84" r="1.85"/>
<circle cx="428.78" cy="194.4" r="1.85"/>
<circle cx="411.75" cy="211.36" r="1.85"/>
<circle cx="432.93" cy="194.36" r="1.85"/>
<circle cx="416.13" cy="203.34" r="1.85"/>
<circle cx="414.66" cy="200.53" r="1.85"/>
<circle cx="422.13" cy="198.83" r="1.85"/>
<circle cx="419.36" cy="200.13" r="1.85"/>
<circle cx="445.81" cy="189.69" r="1.85"/>
<circle cx="444.36" cy="185.08" r="1.85"/>
<circle cx="408.24" cy="212.42" r="1.85"/>
<circle cx="442.89" cy="187.78" r="1.85"/>
<circle cx="429.03" cy="195.48" r="1.85"/>
<circle cx="438.14" cy="192.29" r="1.85"/>
<circle cx="406.03" cy="212.14" r="1.85"/>
<circle cx="437.38" cy="193.32" r="1.85"/>
<circle cx="409.17" cy="212.64" r="1.85"/>
<circle cx="426.99" cy="193.48" r="1.85"/>
<circle cx="409.85" cy="205" r="1.85"/>
<circle cx="432.34" cy="195.2" r="1.85"/>
<circle cx="416.44" cy="204.92" r="1.85"/>
<circle cx="418.42" cy="203.74" r="1.85"/>
<circle cx="416.39" cy="202.76" r="1.85"/>
<circle cx="424.36" cy="203.74" r="1.85"/>
<circle cx="455.4" cy="168.41" r="1.85"/>
<circle cx="445.72" cy="182.39" r="1.85"/>
<circle cx="445.86" cy="186.06" r="1.85"/>
<circle cx="456.08" cy="175.19" r="1.85"/>
<circle cx="443.6" cy="185.14" r="1.85"/>
<circle cx="452.12" cy="175.61" r="1.85"/>
<circle cx="432.48" cy="199.53" r="1.85"/>
<circle cx="440.91" cy="190.05" r="1.85"/>
<circle cx="463.97" cy="171.54" r="1.85"/>
<circle cx="466.71" cy="169.9" r="1.85"/>
<circle cx="442.36" cy="183.67" r="1.85"/>
<circle cx="433.84" cy="182.51" r="1.85"/>
<circle cx="465.5" cy="171.76" r="1.85"/>
<circle cx="443.69" cy="180.42" r="1.85"/>
<circle cx="463.66" cy="169.1" r="1.85"/>
<circle cx="432.62" cy="189.27" r="1.85"/>
<circle cx="432.26" cy="191.59" r="1.85"/>
<circle cx="453.64" cy="170.82" r="1.85"/>
<circle cx="457.32" cy="184.43" r="1.85"/>
<circle cx="469.85" cy="163.06" r="1.85"/>
<circle cx="454.83" cy="187.42" r="1.85"/>
<circle cx="461.48" cy="173.41" r="1.85"/>
<circle cx="459.05" cy="164.66" r="1.85"/>
<circle cx="469.12" cy="174.05" r="1.85"/>
<circle cx="463.37" cy="171.8" r="1.85"/>
<circle cx="462.1" cy="173.49" r="1.85"/>
<circle cx="449.23" cy="181.87" r="1.85"/>
<circle cx="435.23" cy="193.34" r="1.85"/>
<circle cx="461.39" cy="179.64" r="1.85"/>
<circle cx="435.14" cy="186.2" r="1.85"/>
<circle cx="458.48" cy="173.99" r="1.85"/>
<circle cx="435.03" cy="197.09" r="1.85"/>
<circle cx="443.37" cy="177.2" r="1.85"/>
<circle cx="453.98" cy="170.72" r="1.85"/>
<circle cx="439.19" cy="189.27" r="1.85"/>
<circle cx="452.96" cy="173.45" r="1.85"/>
<circle cx="435.45" cy="185.12" r="1.85"/>
<circle cx="450.28" cy="188.98" r="1.85"/>
<circle cx="448.55" cy="183.11" r="1.85"/>
<circle cx="458.85" cy="167.11" r="1.85"/>
<circle cx="451.15" cy="177.3" r="1.85"/>
<circle cx="446.68" cy="179.04" r="1.85"/>
<circle cx="434.69" cy="188.16" r="1.85"/>
<circle cx="437.29" cy="188.54" r="1.85"/>
<circle cx="438.79" cy="190.43" r="1.85"/>
<circle cx="437.18" cy="191.53" r="1.85"/>
<circle cx="455.31" cy="176.57" r="1.85"/>
<circle cx="446.71" cy="182.01" r="1.85"/>
<circle cx="465.95" cy="171.02" r="1.85"/>
<circle cx="455" cy="177.26" r="1.85"/>
<circle cx="471.83" cy="167.27" r="1.85"/>
<circle cx="459.81" cy="177.26" r="1.85"/>
<circle cx="441.31" cy="183.65" r="1.85"/>
<circle cx="454.6" cy="180.54" r="1.85"/>
<circle cx="432.93" cy="187.94" r="1.85"/>
<circle cx="446.23" cy="180.38" r="1.85"/>
<circle cx="448.58" cy="180.12" r="1.85"/>
<circle cx="453.95" cy="168.73" r="1.85"/>
<circle cx="468.81" cy="167.75" r="1.85"/>
<circle cx="450.87" cy="183.61" r="1.85"/>
<circle cx="462.19" cy="178.22" r="1.85"/>
<circle cx="443.23" cy="180.18" r="1.85"/>
<circle cx="431.72" cy="190.95" r="1.85"/>
<circle cx="454.32" cy="176.89" r="1.85"/>
<circle cx="444.36" cy="189.73" r="1.85"/>
<circle cx="470.56" cy="162.36" r="1.85"/>
<circle cx="464.42" cy="176.75" r="1.85"/>
<circle cx="463.49" cy="174.89" r="1.85"/>
<circle cx="438.68" cy="188.18" r="1.85"/>
<circle cx="456.1" cy="182.09" r="1.85"/>
</g>
<line x1="399.1" y1="219.1" x2="682" y2="18.6" stroke="#e81c23" stroke-width="1.9" stroke-dasharray="6 5.35"/>
<line x1="399.1" y1="209.28" x2="682" y2="40.86" stroke="#bababa" stroke-width="1.45" />
</g>
<rect x="399.1" y="18.6" width="283.4" height="200.5" fill="none" stroke="#7c7c7c" stroke-width="0.85"/>
<line x1="455.68" y1="219.1" x2="455.68" y2="216.1" stroke="#7c7c7c" stroke-width="0.85" />
<line x1="455.68" y1="18.6" x2="455.68" y2="21.6" stroke="#7c7c7c" stroke-width="0.85" />
<line x1="512.26" y1="219.1" x2="512.26" y2="216.1" stroke="#7c7c7c" stroke-width="0.85" />
<line x1="512.26" y1="18.6" x2="512.26" y2="21.6" stroke="#7c7c7c" stroke-width="0.85" />
<line x1="568.84" y1="219.1" x2="568.84" y2="216.1" stroke="#7c7c7c" stroke-width="0.85" />
<line x1="568.84" y1="18.6" x2="568.84" y2="21.6" stroke="#7c7c7c" stroke-width="0.85" />
<line x1="625.42" y1="219.1" x2="625.42" y2="216.1" stroke="#7c7c7c" stroke-width="0.85" />
<line x1="625.42" y1="18.6" x2="625.42" y2="21.6" stroke="#7c7c7c" stroke-width="0.85" />
<line x1="399.1" y1="179" x2="402.1" y2="179" stroke="#7c7c7c" stroke-width="0.85" />
<line x1="682.5" y1="179" x2="679.5" y2="179" stroke="#7c7c7c" stroke-width="0.85" />
<line x1="399.1" y1="138.9" x2="402.1" y2="138.9" stroke="#7c7c7c" stroke-width="0.85" />
<line x1="682.5" y1="138.9" x2="679.5" y2="138.9" stroke="#7c7c7c" stroke-width="0.85" />
<line x1="399.1" y1="98.8" x2="402.1" y2="98.8" stroke="#7c7c7c" stroke-width="0.85" />
<line x1="682.5" y1="98.8" x2="679.5" y2="98.8" stroke="#7c7c7c" stroke-width="0.85" />
<line x1="399.1" y1="58.7" x2="402.1" y2="58.7" stroke="#7c7c7c" stroke-width="0.85" />
<line x1="682.5" y1="58.7" x2="679.5" y2="58.7" stroke="#7c7c7c" stroke-width="0.85" />
<text x="399.1" y="235.6" font-size="14" text-anchor="middle" fill="#262626" textLength="6.58" lengthAdjust="spacingAndGlyphs">0</text>
<text x="394.8" y="223.4" font-size="14" text-anchor="end" fill="#262626" textLength="6.58" lengthAdjust="spacingAndGlyphs">0</text>
<text x="455.68" y="235.6" font-size="14" text-anchor="middle" fill="#262626" textLength="16.45" lengthAdjust="spacingAndGlyphs">0.2</text>
<text x="394.8" y="183.3" font-size="14" text-anchor="end" fill="#262626" textLength="16.45" lengthAdjust="spacingAndGlyphs">0.2</text>
<text x="512.26" y="235.6" font-size="14" text-anchor="middle" fill="#262626" textLength="16.45" lengthAdjust="spacingAndGlyphs">0.4</text>
<text x="394.8" y="143.2" font-size="14" text-anchor="end" fill="#262626" textLength="16.45" lengthAdjust="spacingAndGlyphs">0.4</text>
<text x="568.84" y="235.6" font-size="14" text-anchor="middle" fill="#262626" textLength="16.45" lengthAdjust="spacingAndGlyphs">0.6</text>
<text x="394.8" y="103.1" font-size="14" text-anchor="end" fill="#262626" textLength="16.45" lengthAdjust="spacingAndGlyphs">0.6</text>
<text x="625.42" y="235.6" font-size="14" text-anchor="middle" fill="#262626" textLength="16.45" lengthAdjust="spacingAndGlyphs">0.8</text>
<text x="394.8" y="63" font-size="14" text-anchor="end" fill="#262626" textLength="16.45" lengthAdjust="spacingAndGlyphs">0.8</text>
<text x="682" y="235.6" font-size="14" text-anchor="middle" fill="#262626" textLength="6.58" lengthAdjust="spacingAndGlyphs">1</text>
<text x="394.8" y="22.9" font-size="14" text-anchor="end" fill="#262626" textLength="6.58" lengthAdjust="spacingAndGlyphs">1</text>
<text x="0" y="0" font-size="14.67" text-anchor="middle" fill="#262626" transform="translate(370.6 118.7) rotate(-90)" textLength="97.7" lengthAdjust="spacingAndGlyphs">Predicted CUE</text>
<text x="540.6" y="251.4" font-size="14.67" text-anchor="middle" fill="#262626" textLength="56.6" lengthAdjust="spacingAndGlyphs">EC CUE</text>
<text x="544.5" y="271.4" font-size="14" text-anchor="middle" fill="#000" stroke="#000" stroke-width="0.2">(b)</text>
<text x="401.8" y="12.6" font-size="13.6" fill="#262626" textLength="278" lengthAdjust="spacingAndGlyphs">ME=0.01 RMSE=0.10 MAE=0.06 R<tspan font-size="9.5" dy="-4.8">2</tspan><tspan dy="4.8">=0.84</tspan></text>
<line x1="406.3" y1="32.7" x2="424.6" y2="32.7" stroke="#e81c23" stroke-width="1.9" stroke-dasharray="6 5.35"/>
<line x1="406.7" y1="47.3" x2="428.9" y2="47.3" stroke="#b4b4b4" stroke-width="1.5" />
<text x="431" y="35.6" font-size="12" text-anchor="start" fill="#262626" textLength="37" lengthAdjust="spacingAndGlyphs">1:1 line</text>
<text x="431" y="50.5" font-size="12" text-anchor="start" fill="#262626" textLength="34.1" lengthAdjust="spacingAndGlyphs">Ls line</text>
<rect x="248.7" y="289.7" width="24" height="184.6" fill="#003f7f"/>
<line x1="260.7" y1="474.3" x2="260.7" y2="471.5" stroke="#262626" stroke-width="0.85" stroke-opacity="0.5"/>
<rect x="278.75" y="290.62" width="24" height="183.68" fill="#20578f"/>
<line x1="290.75" y1="474.3" x2="290.75" y2="471.5" stroke="#262626" stroke-width="0.85" stroke-opacity="0.5"/>
<rect x="308.8" y="298.01" width="24" height="176.29" fill="#3f6f9f"/>
<line x1="320.8" y1="474.3" x2="320.8" y2="471.5" stroke="#262626" stroke-width="0.85" stroke-opacity="0.5"/>
<rect x="338.85" y="308.34" width="24" height="165.96" fill="#5f87af"/>
<line x1="350.85" y1="474.3" x2="350.85" y2="471.5" stroke="#262626" stroke-width="0.85" stroke-opacity="0.5"/>
<rect x="368.9" y="318.13" width="24" height="156.17" fill="#7f9fbf"/>
<line x1="380.9" y1="474.3" x2="380.9" y2="471.5" stroke="#262626" stroke-width="0.85" stroke-opacity="0.5"/>
<rect x="398.95" y="319.79" width="24" height="154.51" fill="#9eb7cf"/>
<line x1="410.95" y1="474.3" x2="410.95" y2="471.5" stroke="#262626" stroke-width="0.85" stroke-opacity="0.5"/>
<rect x="429" y="334.56" width="24" height="139.74" fill="#bdcedf"/>
<line x1="441" y1="474.3" x2="441" y2="471.5" stroke="#262626" stroke-width="0.85" stroke-opacity="0.5"/>
<rect x="459.05" y="335.3" width="24" height="139" fill="#dde5ee"/>
<line x1="471.05" y1="474.3" x2="471.05" y2="471.5" stroke="#262626" stroke-width="0.85" stroke-opacity="0.5"/>
<line x1="224.9" y1="289.7" x2="224.9" y2="474.3" stroke="#7c7c7c" stroke-width="0.85" />
<line x1="224.9" y1="474.3" x2="507.8" y2="474.3" stroke="#7c7c7c" stroke-width="0.85" />
<line x1="224.9" y1="474.3" x2="227.7" y2="474.3" stroke="#7c7c7c" stroke-width="0.85" />
<text x="220" y="478.6" font-size="14" text-anchor="end" fill="#262626" textLength="6.58" lengthAdjust="spacingAndGlyphs">0</text>
<line x1="224.9" y1="437.38" x2="227.7" y2="437.38" stroke="#7c7c7c" stroke-width="0.85" />
<text x="220" y="441.68" font-size="14" text-anchor="end" fill="#262626" textLength="16.45" lengthAdjust="spacingAndGlyphs">0.2</text>
<line x1="224.9" y1="400.46" x2="227.7" y2="400.46" stroke="#7c7c7c" stroke-width="0.85" />
<text x="220" y="404.76" font-size="14" text-anchor="end" fill="#262626" textLength="16.45" lengthAdjust="spacingAndGlyphs">0.4</text>
<line x1="224.9" y1="363.54" x2="227.7" y2="363.54" stroke="#7c7c7c" stroke-width="0.85" />
<text x="220" y="367.84" font-size="14" text-anchor="end" fill="#262626" textLength="16.45" lengthAdjust="spacingAndGlyphs">0.6</text>
<line x1="224.9" y1="326.62" x2="227.7" y2="326.62" stroke="#7c7c7c" stroke-width="0.85" />
<text x="220" y="330.92" font-size="14" text-anchor="end" fill="#262626" textLength="16.45" lengthAdjust="spacingAndGlyphs">0.8</text>
<line x1="224.9" y1="289.7" x2="227.7" y2="289.7" stroke="#7c7c7c" stroke-width="0.85" />
<text x="220" y="294" font-size="14" text-anchor="end" fill="#262626" textLength="6.58" lengthAdjust="spacingAndGlyphs">1</text>
<text x="0" y="0" font-size="14.45" text-anchor="middle" fill="#262626" transform="translate(199.2 382) rotate(-90)">Relevance</text>
<text x="366.1" y="526.5" font-size="14.4" text-anchor="middle" fill="#262626" >GPR Input</text>
<text x="364.9" y="543.9" font-size="14" text-anchor="middle" fill="#000" stroke="#000" stroke-width="0.2">(c)</text>
<text font-size="13.33" text-anchor="end" fill="#262626" transform="translate(267.5 489.5) rotate(-30)">LAI</text>
<text font-size="13.33" text-anchor="end" fill="#262626" transform="translate(296.6 490.6) rotate(-30)">ET</text>
<text font-size="13.33" text-anchor="end" fill="#262626" transform="translate(320.5 493.3) rotate(-30)">LST</text>
<text font-size="10.5" text-anchor="end" fill="#262626" transform="translate(330.4 495) rotate(-30)">D</text>
<text font-size="13.33" text-anchor="end" fill="#262626" transform="translate(357 489.5) rotate(-30)">PAR</text>
<text font-size="13.33" text-anchor="end" fill="#262626" transform="translate(388 489.6) rotate(-30)">PET</text>
<text font-size="13.33" text-anchor="end" fill="#262626" transform="translate(411.4 493.8) rotate(-30)">LST</text>
<text font-size="10.5" text-anchor="end" fill="#262626" transform="translate(420 494) rotate(-30)">N</text>
<text font-size="13.33" text-anchor="end" fill="#262626" transform="translate(447.3 490.2) rotate(-30)">kNDVI</text>
<text font-size="13.33" text-anchor="end" fill="#262626" transform="translate(467 495.5) rotate(-30)">C</text>
<text font-size="10.5" text-anchor="end" fill="#262626" transform="translate(481 495.5) rotate(-30)">ws</text>
</svg>
</body>
</html>
